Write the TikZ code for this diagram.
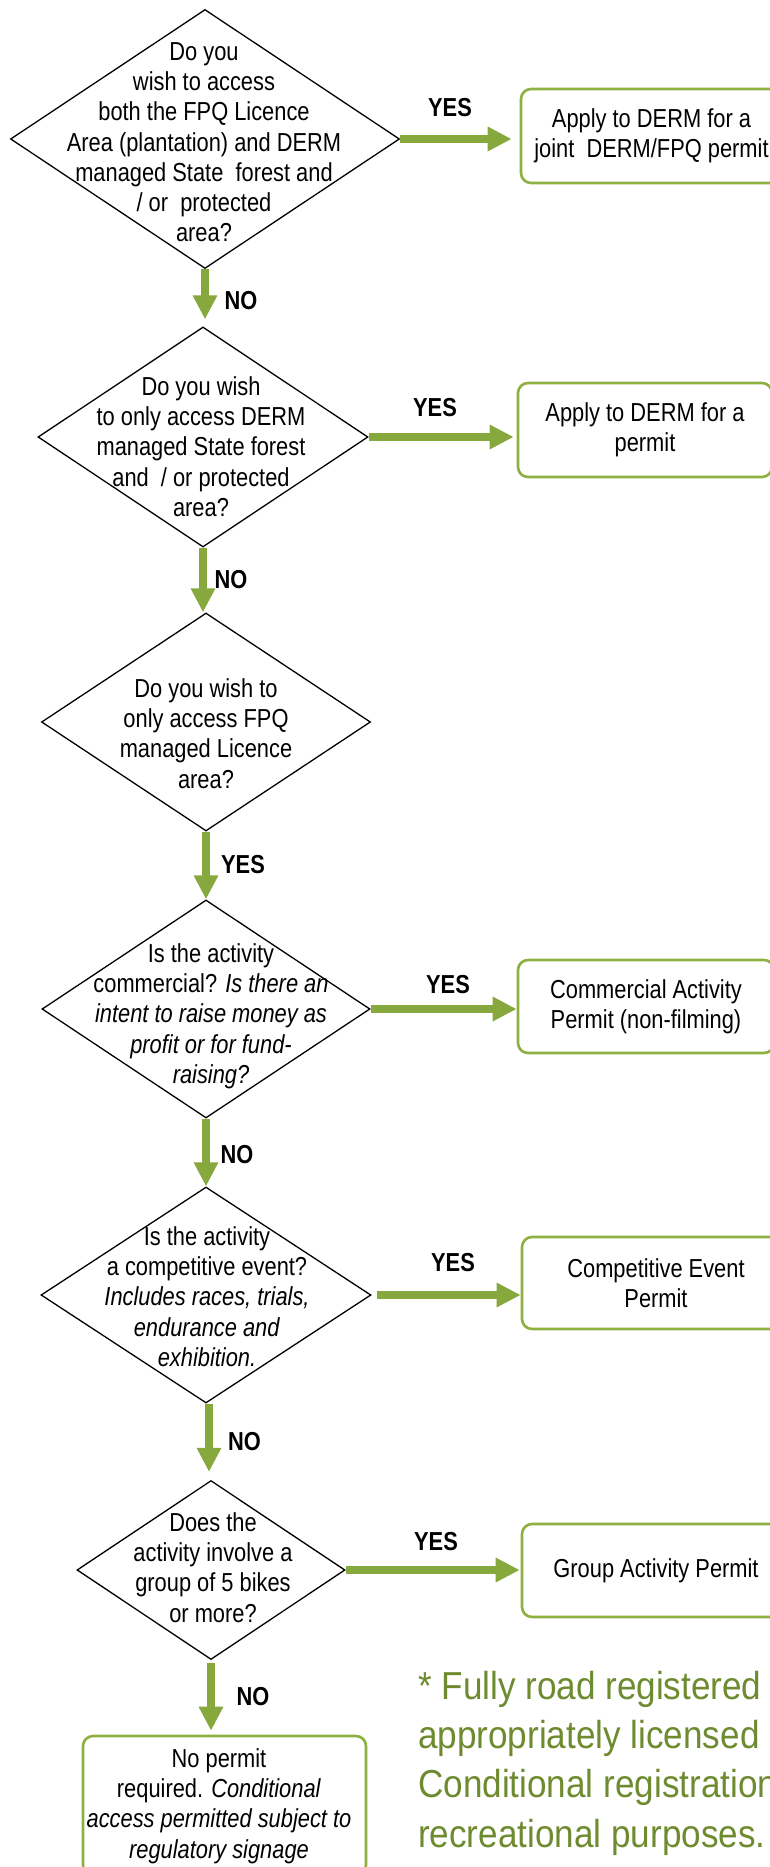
\documentclass[tikz,border=0pt]{standalone}
\usepackage{fontspec}
\setmainfont{Liberation Sans}[FakeStretch=0.84]
\newfontfamily\fnfont{Liberation Sans}[FakeStretch=0.9]
\usetikzlibrary{arrows.meta,shapes.geometric}
\definecolor{arrowgreen}{HTML}{86A83C}
\definecolor{boxgreen}{HTML}{8DB040}
\definecolor{fngreen}{HTML}{6E8B2F}
\newcommand\fl{\rule{0pt}{20pt}}
\tikzset{
  question/.style={draw=black, line width=1.3pt, shape=diamond, inner sep=0pt, aspect=1},
  qtext/.style={font=\fontsize{26}{30.3}\selectfont, align=center, inner sep=0pt, anchor=north},
  result/.style={draw=boxgreen, line width=2.6pt, rounded corners=10pt, inner sep=0pt,
                 font=\fontsize{26}{30.3}\selectfont, align=center},
  answer/.style={font=\bfseries\fontsize{26}{30}\selectfont, inner sep=0pt, anchor=base},
  flow/.style={draw=arrowgreen, line width=8pt, -{Triangle[width=23pt,length=24pt]}},
}
\begin{document}
\begin{tikzpicture}[x=1pt,y=-1pt]
\useasboundingbox (0,0) rectangle (770,1867);
\clip (0,0) rectangle (770,1867);
\fill[white] (0,0) rectangle (770,1867);

% diamonds
\node[question, minimum width=389pt, minimum height=259pt] (d1) at (205,139) {};
\node[question, minimum width=330pt, minimum height=220pt] (d2) at (203,437) {};
\node[question, minimum width=329pt, minimum height=218pt] (d3) at (206,722) {};
\node[question, minimum width=328pt, minimum height=218pt] (d4) at (206,1009) {};
\node[question, minimum width=330pt, minimum height=216pt] (d5) at (206,1295) {};
\node[question, minimum width=268pt, minimum height=179pt] (d6) at (211,1570) {};

% diamond texts
\node[qtext] (t1) at (204,40) {\fl Do you\\wish to access\\both the FPQ Licence\\Area (plantation) and DERM\\managed State\ \ forest and\\/ or\ \ protected\\area?};
\node[qtext] (t2) at (201,375) {\fl Do you wish\\to only access DERM\\managed State forest\\and\ \ / or protected\\area?};
\node[qtext] (t3) at (206,677) {\fl Do you wish to\\only access FPQ\\managed Licence\\area?};
\node[qtext] (t4) at (211,942) {\fl Is the activity\\commercial? \textit{Is there an}\\\textit{intent to raise money as}\\\textit{profit or for fund-}\\\textit{raising?}};
\node[qtext] (t5) at (207,1225) {\fl Is the activity\\a competitive event?\\\textit{Includes races, trials,}\\\textit{endurance and}\\\textit{exhibition.}};
\node[qtext] (t6) at (213,1511) {\fl Does the\\activity involve a\\group of 5 bikes\\or more?};

% result boxes
\node[result, minimum width=261pt, minimum height=94pt] (b1) at (651.5,136) {Apply to DERM for a\\joint\ \ DERM/FPQ permit};
\node[result, minimum width=254pt, minimum height=94pt] (b2) at (645,430) {Apply to DERM for a\\permit};
\node[result, minimum width=256pt, minimum height=93pt] (b4) at (646,1006.5) {Commercial Activity\\Permit (non-filming)};
\node[result, minimum width=268pt, minimum height=92pt] (b5) at (656,1283) {Competitive Event\\Permit};
\node[result, minimum width=268pt, minimum height=93pt] (b6) at (656,1570.5) {Group Activity Permit};
\node[result, minimum width=283pt, minimum height=139pt] (b7) at (224.5,1805.5) {};
\node[qtext] (t7) at (219,1747) {\fl No permit\\required. \textit{Conditional}\\\textit{access permitted subject to}\\\textit{regulatory signage}};

% connectors
\draw[flow, shorten >=8pt] (d1.east) -- (d1.east -| b1.west);
\draw[flow, shorten >=3pt] (d2.east) -- (d2.east -| b2.west);
\draw[flow] (d4.east) -- (d4.east -| b4.west);
\draw[flow, shorten <=5pt] (d5.east) -- (d5.east -| b5.west);
\draw[flow, shorten >=1pt] (d6.east) -- (d6.east -| b6.west);

\draw[flow, shorten >=7pt] (d1.south) -- (d1.south |- d2.north);
\draw[flow] (d2.south) -- (d2.south |- d3.north);
\draw[flow] (d3.south) -- (d3.south |- d4.north);
\draw[flow] (d4.south) -- (d4.south |- d5.north);
\draw[flow, shorten >=8pt] ([xshift=3pt]d5.south) -- ([xshift=3pt]d5.south |- d6.north);
\draw[flow, shorten <=3pt, shorten >=4pt] (d6.south) -- (d6.south |- b7.north);

% labels
\node[answer] (y1) at (450,117) {YES};
\node[answer] (n1) at (241,310) {NO};
\node[answer] (y2) at (435,416) {YES};
\node[answer] (n2) at (231,588) {NO};
\node[answer] (y3) at (243,873) {YES};
\node[answer] (y4) at (448,993) {YES};
\node[answer] (n4) at (237,1163) {NO};
\node[answer] (y5) at (453,1271) {YES};
\node[answer] (n5) at (244.5,1450) {NO};
\node[answer] (y6) at (436,1550) {YES};
\node[answer] (n6) at (253,1705) {NO};

% footnote
\node[anchor=north west, inner sep=0pt, align=left, text=fngreen,
      font=\fnfont\fontsize{39}{49.3}\selectfont] (fn) at (418,1669)
  {\rule{0pt}{30pt}* Fully road registered\\appropriately licensed\\Conditional registration\\recreational purposes.};
\end{tikzpicture}
\end{document}
